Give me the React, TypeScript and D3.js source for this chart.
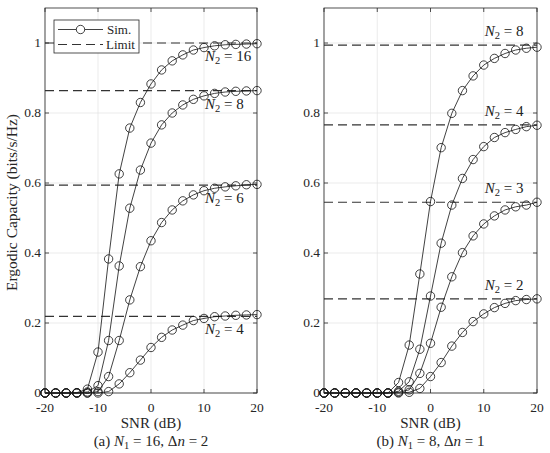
import React from "react";
import * as d3 from "d3";

// SNR grid (dB), one point every 2 dB
const snr = [-20, -18, -16, -14, -12, -10, -8, -6, -4, -2, 0, 2, 4, 6, 8, 10, 12, 14, 16, 18, 20];
const xTicks = [-20, -10, 0, 10, 20];
const yTicks = [0, 0.2, 0.4, 0.6, 0.8, 1];

// panel (a): N1 = 16, dn = 2
const aLabels = ["16", "8", "6", "4"];
const aLimits = [1.0, 0.864, 0.594, 0.219];
const aSim = [
  [0, 0, 0, 0.001, 0.011, 0.117, 0.383, 0.626, 0.757, 0.83, 0.883, 0.923, 0.949, 0.966, 0.98, 0.987, 0.992, 0.995, 0.996, 0.997, 0.998],
  [0, 0, 0, 0, 0.003, 0.021, 0.15, 0.363, 0.528, 0.637, 0.714, 0.766, 0.8, 0.823, 0.839, 0.849, 0.856, 0.86, 0.862, 0.863, 0.864],
  [0, 0, 0, 0, 0, 0.004, 0.047, 0.15, 0.266, 0.361, 0.435, 0.487, 0.523, 0.549, 0.566, 0.578, 0.585, 0.589, 0.592, 0.595, 0.596],
  [0, 0, 0, 0, 0, 0, 0.004, 0.026, 0.058, 0.094, 0.13, 0.159, 0.18, 0.194, 0.207, 0.213, 0.218, 0.22, 0.222, 0.223, 0.224],
];

// panel (b): N1 = 8, dn = 1
const bLabels = ["8", "4", "3", "2"];
const bLimits = [0.994, 0.766, 0.545, 0.269];
const bSim = [
  [0, 0, 0, 0, 0, 0, 0, 0.03, 0.137, 0.34, 0.547, 0.701, 0.799, 0.864, 0.906, 0.937, 0.956, 0.97, 0.98, 0.985, 0.988],
  [0, 0, 0, 0, 0, 0, 0, 0.005, 0.032, 0.125, 0.277, 0.428, 0.537, 0.613, 0.667, 0.704, 0.73, 0.744, 0.753, 0.761, 0.765],
  [0, 0, 0, 0, 0, 0, 0, 0.002, 0.009, 0.056, 0.142, 0.245, 0.332, 0.401, 0.449, 0.483, 0.506, 0.523, 0.532, 0.537, 0.545],
  [0, 0, 0, 0, 0, 0, 0, 0, 0.002, 0.013, 0.047, 0.087, 0.134, 0.173, 0.204, 0.226, 0.244, 0.256, 0.264, 0.267, 0.269],
];

const FONT = "'Liberation Serif', 'Times New Roman', 'DejaVu Serif', serif";
const AXIS = "#262626";
const GRID = "#e3e3e3";
const fs = (size: number): React.CSSProperties => ({ fontFamily: FONT, fontSize: size });

const top = 8;
const bottom = 393;
const y = d3.scaleLinear().domain([0, 1.1]).range([bottom, top]);

const Sub: React.FC<{ s: string }> = ({ s }) => (
  <tspan style={{ fontSize: "70%" }} dy={3}>{s}</tspan>
);

const Panel: React.FC<{
  left: number;
  right: number;
  sims: number[][];
  limits: number[];
  labels: string[];
  below: boolean;
  tag: string;
  n1: string;
  dn: string;
  legend?: boolean;
}> = ({ left, right, sims, limits, labels, below, tag, n1, dn, legend }) => {
  const x = d3.scaleLinear().domain([-20, 20]).range([left, right]);
  const line = d3
    .line<number>()
    .x((_, i) => x(snr[i]))
    .y((d) => y(d));
  const cx = (left + right) / 2;
  const tk = 4;

  return (
    <g fill={AXIS}>
      {/* grid */}
      {xTicks.map((t) => (
        <line key={"gx" + t} x1={x(t)} x2={x(t)} y1={top} y2={bottom} stroke={GRID} strokeWidth={0.7} />
      ))}
      {yTicks.map((t) => (
        <line key={"gy" + t} x1={left} x2={right} y1={y(t)} y2={y(t)} stroke={GRID} strokeWidth={0.7} />
      ))}

      {/* limits */}
      {limits.map((l, i) => (
        <line key={"lim" + i} x1={left} x2={right} y1={y(l)} y2={y(l)} stroke="#333" strokeWidth={1.2} strokeDasharray="9,5" />
      ))}

      {/* simulations */}
      {sims.map((s, i) => (
        <g key={"sim" + i}>
          <path d={line(s) ?? ""} fill="none" stroke="#111" strokeWidth={0.8} />
          {s.map((v, j) => (
            <circle key={j} cx={x(snr[j])} cy={y(v)} r={4.2} fill="none" stroke="#111" strokeWidth={0.8} />
          ))}
        </g>
      ))}

      {/* curve labels */}
      {labels.map((lab, i) => (
        <text key={"lab" + i} x={x(10) + 1} y={y(limits[i]) + (below ? 18 : -9)} style={fs(15)} fill="#222">
          <tspan fontStyle="italic">N</tspan>
          <Sub s="2" />
          <tspan dy={-3}>{" = " + lab}</tspan>
        </text>
      ))}

      {/* box and ticks */}
      <rect x={left} y={top} width={right - left} height={bottom - top} fill="none" stroke={AXIS} strokeWidth={0.8} />
      {xTicks.map((t) => (
        <g key={"tx" + t}>
          <line x1={x(t)} x2={x(t)} y1={bottom} y2={bottom - tk} stroke={AXIS} strokeWidth={0.8} />
          <line x1={x(t)} x2={x(t)} y1={top} y2={top + tk} stroke={AXIS} strokeWidth={0.8} />
          <text x={x(t)} y={bottom + 18.5} textAnchor="middle" style={fs(13.5)}>{t}</text>
        </g>
      ))}
      {yTicks.map((t) => (
        <g key={"ty" + t}>
          <line x1={left} x2={left + tk} y1={y(t)} y2={y(t)} stroke={AXIS} strokeWidth={0.8} />
          <line x1={right} x2={right - tk} y1={y(t)} y2={y(t)} stroke={AXIS} strokeWidth={0.8} />
          <text x={left - 4} y={y(t) + 3.8} textAnchor="end" style={fs(13.5)}>{t}</text>
        </g>
      ))}

      <text x={cx} y={bottom + 35} textAnchor="middle" style={fs(15)}>SNR (dB)</text>
      <text x={cx} y={bottom + 53} textAnchor="middle" style={fs(15)}>
        {tag + " "}
        <tspan fontStyle="italic">N</tspan>
        <Sub s="1" />
        <tspan dy={-3}>{" = " + n1 + ", Δ"}</tspan>
        <tspan fontStyle="italic">n</tspan>
        <tspan>{" = " + dn}</tspan>
      </text>

      {legend && (
        <g>
          <rect x={54} y={20} width={85} height={33} fill="#fff" stroke={AXIS} strokeWidth={0.8} />
          <line x1={58} x2={103} y1={29.5} y2={29.5} stroke="#111" strokeWidth={0.8} />
          <circle cx={80.5} cy={29.5} r={4.2} fill="#fff" stroke="#111" strokeWidth={0.8} />
          <text x={107} y={34} style={fs(13)}>Sim.</text>
          <line x1={58} x2={103} y1={44.5} y2={44.5} stroke="#333" strokeWidth={1.2} strokeDasharray="9,5" />
          <text x={106} y={49} style={fs(13)}>Limit</text>
        </g>
      )}
    </g>
  );
};

export default function App() {
  return (
    <svg
      width={550}
      height={453}
      viewBox="0 0 550 453"
      style={{ position: "absolute", left: 0, top: 0, background: "#fff", fontFamily: FONT }}
    >
      <rect width={550} height={453} fill="#fff" />
      <text
        transform={`translate(17,${(top + bottom) / 2 + 2}) rotate(-90)`}
        textAnchor="middle"
        style={fs(15.5)}
        fill={AXIS}
      >
        Ergodic Capacity (bits/s/Hz)
      </text>
      <Panel left={45} right={257} sims={aSim} limits={aLimits} labels={aLabels} below tag="(a)" n1="16" dn="2" legend />
      <Panel left={324} right={537} sims={bSim} limits={bLimits} labels={bLabels} below={false} tag="(b)" n1="8" dn="1" />
    </svg>
  );
}
